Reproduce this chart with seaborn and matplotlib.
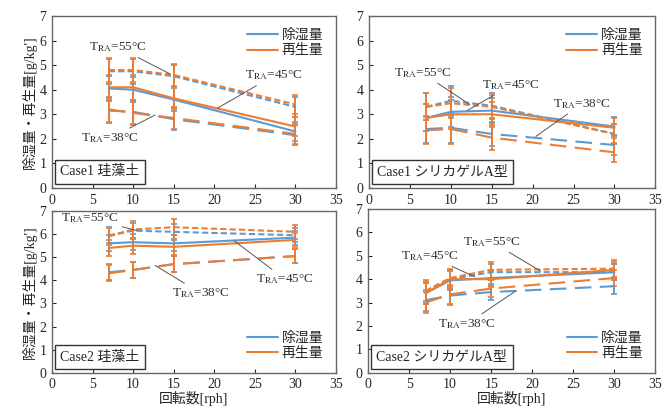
import numpy as np
import pandas as pd
import matplotlib
matplotlib.use("Agg")
import matplotlib.pyplot as plt
import seaborn as sns

# 回転数 [rph]
rph = [7, 10, 15, 30]
temps = ["55", "45", "38"]

# 各ケースの除湿量 / 再生量 [g/kg'] (T_RA = 55, 45, 38 ℃)
c1_dia_dehum = {"55": [4.75, 4.75, 4.55, 3.3], "45": [4.05, 4.0, 3.6, 2.3], "38": [3.15, 3.1, 2.8, 2.15]}
c1_dia_regen = {"55": [4.8, 4.8, 4.6, 3.4], "45": [4.1, 4.1, 3.65, 2.5], "38": [3.2, 3.05, 2.85, 2.2]}
c1_dia_err = [0.5, 0.5, 0.45, 0.4]

c1_sil_dehum = {"55": [3.3, 3.55, 3.35, 2.2], "45": [2.85, 3.1, 3.15, 2.5], "38": [2.4, 2.45, 2.2, 1.75]}
c1_sil_regen = {"55": [3.3, 3.45, 3.3, 2.2], "45": [2.85, 3.0, 3.0, 2.45], "38": [2.35, 2.4, 2.05, 1.45]}
c1_sil_err = [0.55, 0.6, 0.5, 0.4]

c2_dia_dehum = {"55": [5.95, 6.15, 6.1, 5.95], "45": [5.6, 5.65, 5.6, 5.85], "38": [4.35, 4.45, 4.7, 5.05]}
c2_dia_regen = {"55": [5.9, 6.2, 6.3, 6.1], "45": [5.4, 5.5, 5.45, 5.75], "38": [4.3, 4.45, 4.7, 5.05]}
c2_dia_err = [0.35, 0.35, 0.35, 0.3]

c2_sil_dehum = {"55": [3.45, 4.0, 4.3, 4.3], "45": [3.4, 3.95, 4.05, 4.3], "38": [3.1, 3.3, 3.45, 3.7]}
c2_sil_regen = {"55": [3.5, 4.05, 4.4, 4.45], "45": [3.4, 4.0, 4.0, 4.4], "38": [3.0, 3.35, 3.6, 4.05]}
c2_sil_err = [0.45, 0.4, 0.35, 0.35]

case_labels = ["Case1 珪藻土", "Case1 シリカゲルA型", "Case2 珪藻土", "Case2 シリカゲルA型"]
series_names = ["除湿量", "再生量"]

sns.set_style("ticks")
plt.rcParams["font.family"] = ["Liberation Serif", "Noto Sans CJK JP"]
plt.rcParams["mathtext.fontset"] = "stix"

BLUE = "#5B9BD5"
ORANGE = "#ED7D31"
dash_map = {"55": (3, 1.5), "45": "", "38": (8, 4)}

fig = plt.figure(figsize=(6.66, 4.11), dpi=100)
positions = [
    [0.078, 0.5426, 0.4265, 0.4185],
    [0.554, 0.5426, 0.430, 0.4185],
    [0.078, 0.093, 0.4265, 0.3936],
    [0.5526, 0.093, 0.4315, 0.3985],
]
panels = [
    (c1_dia_dehum, c1_dia_regen, c1_dia_err),
    (c1_sil_dehum, c1_sil_regen, c1_sil_err),
    (c2_dia_dehum, c2_dia_regen, c2_dia_err),
    (c2_sil_dehum, c2_sil_regen, c2_sil_err),
]

# 注記: (温度, 文字位置, 指示点)
notes = [
    [("55", (4.6, 5.6), (14.5, 4.65)), ("45", (23.8, 4.45), (20.4, 3.25)), ("38", (3.6, 1.9), (12.7, 2.97))],
    [("55", (3.0, 4.55), (12.3, 3.4)), ("45", (13.8, 4.05), (12.0, 3.15)), ("38", (22.5, 3.3), (20.4, 2.1))],
    [("55", (1.1, 6.55), (10.5, 6.15)), ("45", (25.2, 3.9), (22.5, 5.7)), ("38", (14.8, 3.3), (12.7, 4.65))],
    [("55", (11.6, 5.45), (21.0, 4.35)), ("45", (4.0, 4.85), (13.0, 4.1)), ("38", (8.5, 1.95), (18.0, 3.5))],
]

for i, (dehum, regen, err) in enumerate(panels):
    ax = fig.add_axes(positions[i])
    rows = []
    for t in temps:
        for name, vals in zip(series_names, [dehum[t], regen[t]]):
            for x, v in zip(rph, vals):
                rows.append({"rph": x, "val": v, "kind": name, "T": t})
    df = pd.DataFrame(rows)

    for name, vals_dict, col in [("除湿量", dehum, BLUE), ("再生量", regen, ORANGE)]:
        for t in temps:
            ax.errorbar(rph, vals_dict[t], yerr=err, fmt="none", ecolor=col,
                        elinewidth=1.4, capsize=2.5, capthick=1.2, zorder=2)

    sns.lineplot(data=df, x="rph", y="val", hue="kind", style="T",
                 palette={"除湿量": BLUE, "再生量": ORANGE}, dashes=dash_map,
                 style_order=temps, linewidth=1.5, ax=ax, legend=False, zorder=3)

    for t, txt_xy, pt_xy in notes[i]:
        ax.annotate(r"T$_{\mathrm{RA}}$=" + t + "°C", xy=pt_xy, xytext=txt_xy,
                    fontsize=9.5, color="#333333",
                    arrowprops=dict(arrowstyle="-", color="#555555", lw=0.7,
                                    shrinkA=0, shrinkB=0), zorder=5)

    ax.text(1.0, 0.4, case_labels[i], fontsize=10, ha="left", va="bottom",
            bbox=dict(boxstyle="square,pad=0.4", facecolor="white", edgecolor="#333333", lw=1.0),
            zorder=6)

    h = [plt.Line2D([], [], color=BLUE, lw=1.5), plt.Line2D([], [], color=ORANGE, lw=1.5)]
    loc = "upper right" if i < 2 else "lower right"
    ax.legend(h, series_names, loc=loc, frameon=False, fontsize=10,
              handlelength=2.2, handletextpad=0.3, labelspacing=0.2)

    ax.set_xlim(0, 35)
    ax.set_ylim(0, 7)
    ax.set_xticks(range(0, 36, 5))
    ax.set_yticks(range(0, 8))
    ax.tick_params(direction="in", labelsize=10, length=3, width=0.8, pad=4)
    for s in ax.spines.values():
        s.set_visible(True)
        s.set_color("#666666")
        s.set_linewidth(1.0)
    ax.set_xlabel("回転数[rph]" if i >= 2 else "", fontsize=10, labelpad=0)
    ax.set_ylabel("除湿量・再生量[g/kg']" if i % 2 == 0 else "", fontsize=10, labelpad=2)

fig.savefig("out.png", dpi=100)
